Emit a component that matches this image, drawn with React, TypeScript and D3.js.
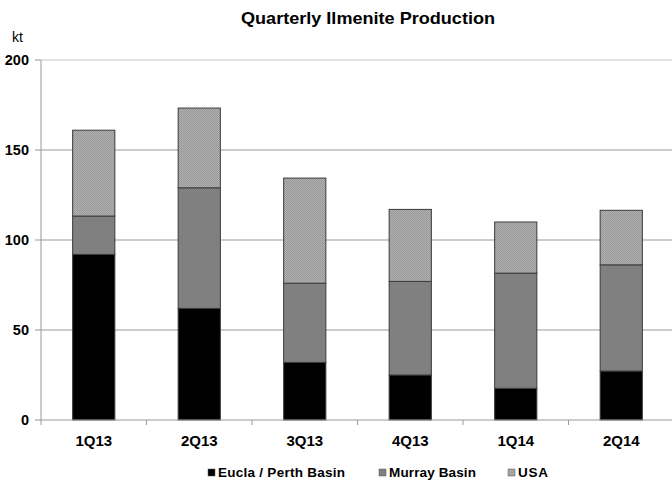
import React from "react";
import * as d3 from "d3";

const categories = ["1Q13", "2Q13", "3Q13", "4Q13", "1Q14", "2Q14"];
const euclaPerth = [92, 62, 32, 25, 17.6, 27.2];
const murray = [21.3, 67, 44, 52, 64, 59];
const usa = [47.7, 44.3, 58.4, 40, 28.4, 30.3];
const seriesNames = ["Eucla / Perth Basin", "Murray Basin", "USA"];
const yTicks = [0, 50, 100, 150, 200];

const W = 672, H = 485;
const left = 41, right = 674, top = 60, bottom = 420;

export default function App() {
  const rows = categories.map((c, i) => ({ cat: c, e: euclaPerth[i], m: murray[i], u: usa[i] }));
  const stack = d3.stack<any>().keys(["e", "m", "u"])(rows);
  const x = d3.scaleBand().domain(categories).range([left, right]).paddingInner(0.6).paddingOuter(0.3);
  const y = d3.scaleLinear().domain([0, 200]).range([bottom, top]);
  const fills = ["#000000", "#808080", "url(#usaPat)"];
  const font = "'Liberation Sans', Arial, sans-serif";
  const step = (right - left) / categories.length;
  const legendX = [208, 379, 508];
  const legendLen = [127, 87, 30];
  return (
    <svg width={W} height={H} style={{ position: "absolute", left: 0, top: 0 }} fontFamily={font}>
      <defs>
        <pattern id="usaPat" width="2" height="2" patternUnits="userSpaceOnUse">
          <rect width="2" height="2" fill="#b2b2b2" />
          <rect width="1" height="1" fill="#979797" />
          <rect x="1" y="1" width="1" height="1" fill="#979797" />
        </pattern>
      </defs>
      <rect width={W} height={H} fill="#fff" />
      <text x={241} y={24} fontWeight="bold" fontSize={16.5} textLength={254} lengthAdjust="spacingAndGlyphs">Quarterly Ilmenite Production</text>
      <text x={17.5} y={42} textAnchor="middle" fontSize={14}>kt</text>
      {yTicks.map(t => (
        <g key={t}>
          {t > 0 && <line x1={left} x2={W} y1={y(t)} y2={y(t)} stroke={t === 200 ? "#c8c8c8" : "#999"} strokeWidth={1} />}
          <line x1={35} x2={left} y1={y(t)} y2={y(t)} stroke="#999" />
          <text x={29} y={y(t) + 5} textAnchor="end" fontWeight="bold" fontSize={14.5}>{t}</text>
        </g>
      ))}
      <line x1={left} x2={left} y1={top} y2={bottom} stroke="#999" />
      {stack.map((s, si) => (
        <g key={si}>
          {s.map((d, i) => (
            <rect key={i} x={x(categories[i])!} width={x.bandwidth()} y={y(d[1])} height={y(d[0]) - y(d[1])}
              fill={fills[si]} stroke="#3a3a3a" strokeWidth={1} />
          ))}
        </g>
      ))}
      <line x1={left} x2={W} y1={bottom} y2={bottom} stroke="#999" />
      {d3.range(categories.length + 1).map(i => (
        <line key={i} x1={left + i * step} x2={left + i * step} y1={bottom} y2={bottom + 5} stroke="#999" />
      ))}
      {categories.map(c => (
        <text key={c} x={x(c)! + x.bandwidth() / 2} y={446} textAnchor="middle" fontWeight="bold" fontSize={15}>{c}</text>
      ))}
      {seriesNames.map((n, i) => (
        <g key={n}>
          <rect x={legendX[i]} y={469} width={7} height={7} fill={fills[i]} stroke="#555" strokeWidth={0.5} />
          <text x={legendX[i] + 10} y={477} fontWeight="bold" fontSize={13.5} textLength={legendLen[i]} lengthAdjust="spacing">{n}</text>
        </g>
      ))}
    </svg>
  );
}
